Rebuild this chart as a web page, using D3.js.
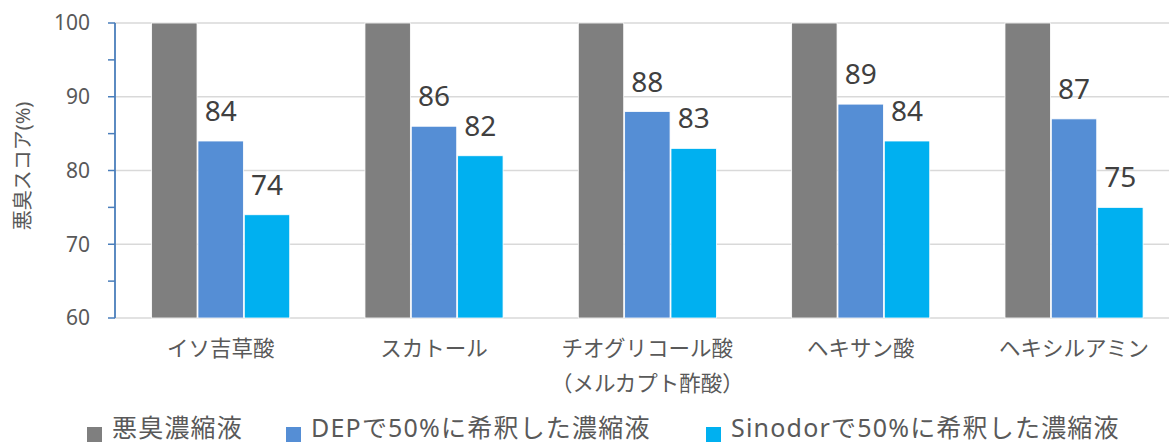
<!DOCTYPE html>
<html><head><meta charset="utf-8">
<script src="https://cdn.jsdelivr.net/npm/d3@7"></script>
<style>
html,body{margin:0;padding:0;background:#fff;}
svg{display:block;font-family:"Noto Sans","Noto Sans CJK JP",sans-serif;}
</style></head>
<body><svg id="c" width="1169" height="443"></svg>
<script>
const categories = ["イソ吉草酸","スカトール","チオグリコール酸","ヘキサン酸","ヘキシルアミン"];
const subLabels = ["","","（メルカプト酢酸）","",""];
const seriesNames = ["悪臭濃縮液","DEPで50%に希釈した濃縮液","Sinodorで50%に希釈した濃縮液"];
const seriesColors = ["#7f7f7f","#558ed5","#00b0f0"];
const concentrate = [100,100,100,100,100];
const dep = [84,86,88,89,87];
const sinodor = [74,82,83,84,75];
const showLabels = [false,true,true];
const yTicks = [60,70,80,90,100];
const yMinorTicks = [60,65,70,75,80,85,90,95,100];
const yTitle = "悪臭スコア(%)";

(function(){
const values = [concentrate, dep, sinodor];
const svg = d3.select("#c");
const mLeft = 114, mTop = 23, mBottom = 318, mRight = 1180.7;

const y = d3.scaleLinear().domain([60,100]).range([mBottom, mTop]);
const x0 = d3.scaleBand().domain(categories).range([mLeft, mRight]).paddingInner(0.344).paddingOuter(0.172);
const x1 = d3.scaleBand().domain(d3.range(seriesNames.length)).range([0, x0.bandwidth()]).padding(0.02);

svg.append("g").selectAll("line").data(yTicks.filter(d=>d>60)).join("line")
  .attr("x1", mLeft).attr("x2", 1169).attr("y1", d=>y(d)).attr("y2", d=>y(d))
  .attr("stroke", "#d9d9d9").attr("stroke-width", 1.3);
svg.append("line").attr("x1", mLeft).attr("x2", 1169).attr("y1", y(60)).attr("y2", y(60))
  .attr("stroke", "#d9d9d9").attr("stroke-width", 1.3);

const g = svg.append("g");
categories.forEach((c, i) => {
  values.forEach((arr, s) => {
    g.append("rect")
      .attr("x", x0(c) + x1(s)).attr("width", x1.bandwidth())
      .attr("y", y(arr[i])).attr("height", y(60) - y(arr[i]))
      .attr("fill", seriesColors[s]).attr("stroke", "#fff").attr("stroke-width", 0.8);
    if (showLabels[s]) {
      g.append("text")
        .attr("x", x0(c) + x1(s) + x1.bandwidth()/2).attr("y", y(arr[i]) - 20)
        .attr("text-anchor", "middle").attr("font-size", 28).attr("fill", "#404040")
        .text(arr[i]);
    }
  });
});

const yAxis = svg.append("g").attr("transform", `translate(${mLeft+1},0)`);
yAxis.append("line").attr("x1",0).attr("x2",0).attr("y1",y(100)).attr("y2",y(60))
  .attr("stroke","#4a7ebb").attr("stroke-width",1.8);
yAxis.selectAll("line.t").data(yMinorTicks).join("line").attr("class","t")
  .attr("x1",-7).attr("x2",0).attr("y1",d=>y(d)).attr("y2",d=>y(d))
  .attr("stroke","#4a7ebb").attr("stroke-width",1.5);
yAxis.selectAll("text").data(yTicks).join("text")
  .attr("x",-25).attr("y",d=>y(d)).attr("dy","0.35em").attr("text-anchor","end")
  .attr("font-size",21).attr("fill","#595959").text(d=>d);

svg.append("text").attr("transform","translate(23,166) rotate(-90)")
  .attr("text-anchor","middle").attr("dy","0.35em").attr("font-size",20).attr("fill","#595959")
  .text(yTitle);

const cl = svg.append("g");
categories.forEach((c,i)=>{
  const cx = x0(c) + x0.bandwidth()/2;
  cl.append("text").attr("x",cx).attr("y",348).attr("dy","0.35em").attr("text-anchor","middle")
    .attr("font-size",21.5).attr("fill","#595959").text(c);
  if (subLabels[i]) cl.append("text").attr("x",cx).attr("y",383).attr("dy","0.35em").attr("text-anchor","middle")
    .attr("font-size",21.5).attr("fill","#595959").text(subLabels[i]);
});

const legX = [87, 286, 706];
const lg = svg.append("g");
seriesNames.forEach((n,s)=>{
  lg.append("rect").attr("x",legX[s]).attr("y",427).attr("width",15).attr("height",15).attr("fill",seriesColors[s]);
  lg.append("text").attr("x",legX[s]+25).attr("y",437).attr("font-size",25).attr("letter-spacing",1.2).attr("fill","#595959").text(n);
});
})();
</script></body></html>
